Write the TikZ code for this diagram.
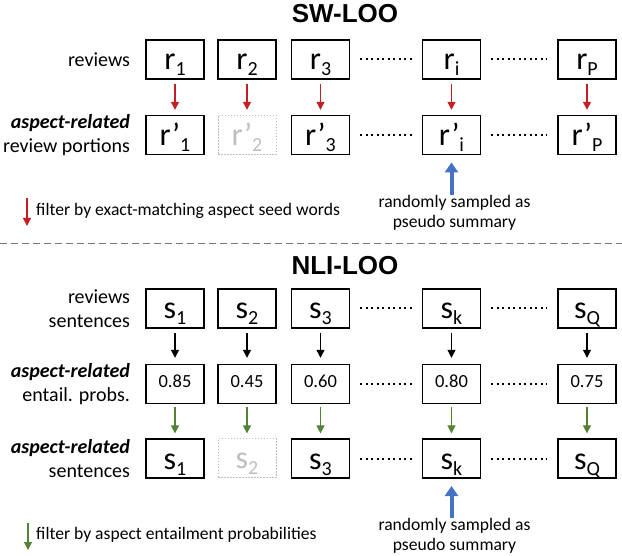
\documentclass[tikz,border=0pt]{standalone}
\usepackage{fontspec}
\setmainfont{Carlito}
\newfontfamily\titlefont{Liberation Sans}
\usepackage{xcolor}
\usepackage{tikz}
\usetikzlibrary{arrows.meta, positioning}
\definecolor{looRed}{RGB}{197, 30, 35}
\definecolor{looGreen}{RGB}{84, 130, 53}
\definecolor{looBlue}{RGB}{68, 114, 196}
\definecolor{looGray}{RGB}{190, 190, 190}
\definecolor{sepGray}{RGB}{120, 120, 120}
\newcommand{\bxt}[2]{\fontsize{32}{32}\selectfont #1\raisebox{-6pt}{\fontsize{20}{20}\selectfont #2}}

\begin{document}
\begin{tikzpicture}[
    x=1pt, y=-1pt,
    node distance=35pt,
    box/.style={rectangle, draw=black, line width=1.6pt, minimum width=58pt, minimum height=39pt, inner sep=0pt, text height=21pt, text depth=0pt},
    ghost/.style={box, draw=looGray, line width=1pt, dash pattern=on 1.5pt off 1.5pt, text=looGray},
    probbox/.style={box, font=\fontsize{18.5}{18.5}\selectfont, text height=11pt, text depth=4pt},
    rowlabel/.style={font=\fontsize{20}{24}\selectfont, align=right, inner sep=0pt},
    title/.style={font=\titlefont\bfseries\fontsize{26}{26}\selectfont, inner sep=0pt},
    note/.style={font=\fontsize{17.6}{20}\selectfont, align=center, inner sep=0pt},
    dots/.style={line width=2pt, dash pattern=on 2pt off 3.5pt},
    sepline/.style={sepGray, line width=1pt, dash pattern=on 7pt off 4pt},
    redarrow/.style={-{Triangle[width=8pt,length=8pt]}, line width=1.2pt, looRed, shorten <=4pt, shorten >=5pt},
    blackarrow/.style={-{Triangle[width=8pt,length=8pt]}, line width=1.2pt, black, shorten <=4pt, shorten >=6pt},
    greenarrow/.style={-{Triangle[width=8pt,length=8pt]}, line width=1.2pt, looGreen, shorten <=3pt, shorten >=5pt},
    bluearrow/.style={-{Triangle[width=13pt,length=10pt]}, line width=4pt, looBlue, shorten >=7pt}
]
\useasboundingbox (0,0) rectangle (622,556);

% SW-LOO
\node[title] (swtitle) at (345,13.5) {SW-LOO};
\node[box] (r1) at (175,59.5) {\bxt{r}{1}};
\node[box] (r2) at (247,59.5) {\bxt{r}{2}};
\node[box] (r3) at (320.5,59.5) {\bxt{r}{3}};
\node[box] (ri) at (451.5,59.5) {\bxt{r}{i}};
\node[box] (rP) at (587,59.5) {\bxt{r}{P}};
\node[box, below=of r1] (rp1) {\bxt{r’}{1}};
\node[ghost, below=of r2] (rp2) {\bxt{r’}{2}};
\node[box, below=of r3] (rp3) {\bxt{r’}{3}};
\node[box, below=of ri] (rpi) {\bxt{r’}{i}};
\node[box, below=of rP] (rpP) {\bxt{r’}{P}};
\node[rowlabel, left=15pt of r1] (lrev) {reviews};
\node[rowlabel, left=15pt of rp1] (lport) {\textbf{\textit{aspect-related}}\\review portions};

\draw[dots] ([xshift=10pt]r3.east) -- ([xshift=-10pt]ri.west);
\draw[dots] ([xshift=10pt]ri.east) -- ([xshift=-10pt]rP.west);
\draw[dots] ([xshift=10pt]rp3.east) -- ([xshift=-10pt]rpi.west);
\draw[dots] ([xshift=10pt]rpi.east) -- ([xshift=-10pt]rpP.west);

\draw[redarrow] (r1) -- (rp1);
\draw[redarrow] (r2) -- (rp2);
\draw[redarrow] (r3) -- (rp3);
\draw[redarrow] (ri) -- (rpi);
\draw[redarrow] (rP) -- (rpP);

\node[note, below=40pt of rpi, xshift=3pt] (swpick) {randomly sampled as\\pseudo summary};
\draw[bluearrow] (rpi.south |- swpick.north) -- (rpi.south);

% legend SW-LOO
\coordinate (legRedTop) at (27,198);
\coordinate (legRedBot) at (27,226);
\draw[redarrow, shorten <=0pt, shorten >=0pt] (legRedTop) -- (legRedBot);
\node[note, anchor=west] (legRedTxt) at (36,211) {filter by exact-matching aspect seed words};

% separator
\draw[sepline] (0,244) -- (622,244);

% NLI-LOO
\node[title] (nlititle) at (345,266) {NLI-LOO};
\node[box] (s1) at (175,308.5) {\bxt{s}{1}};
\node[box] (s2) at (247,308.5) {\bxt{s}{2}};
\node[box] (s3) at (320.5,308.5) {\bxt{s}{3}};
\node[box] (sk) at (451.5,308.5) {\bxt{s}{k}};
\node[box] (sQ) at (587,308.5) {\bxt{s}{Q}};
\node[probbox, below=of s1] (p1) {0.85};
\node[probbox, below=of s2] (p2) {0.45};
\node[probbox, below=of s3] (p3) {0.60};
\node[probbox, below=of sk] (pk) {0.80};
\node[probbox, below=of sQ] (pQ) {0.75};
\node[box, below=34pt of p1] (ss1) {\bxt{s}{1}};
\node[ghost, below=34pt of p2] (ss2) {\bxt{s}{2}};
\node[box, below=34pt of p3] (ss3) {\bxt{s}{3}};
\node[box, below=34pt of pk] (ssk) {\bxt{s}{k}};
\node[box, below=34pt of pQ] (ssQ) {\bxt{s}{Q}};
\node[rowlabel, left=15pt of s1] (lsent) {reviews\\sentences};
\node[rowlabel, left=15pt of p1] (lprob) {\textbf{\textit{aspect-related}}\\entail. probs.};
\node[rowlabel, left=15pt of ss1] (lasent) {\textbf{\textit{aspect-related}}\\sentences};

\draw[dots] ([xshift=10pt]s3.east) -- ([xshift=-10pt]sk.west);
\draw[dots] ([xshift=10pt]sk.east) -- ([xshift=-10pt]sQ.west);
\draw[dots] ([xshift=10pt]p3.east) -- ([xshift=-10pt]pk.west);
\draw[dots] ([xshift=10pt]pk.east) -- ([xshift=-10pt]pQ.west);
\draw[dots] ([xshift=10pt]ss3.east) -- ([xshift=-10pt]ssk.west);
\draw[dots] ([xshift=10pt]ssk.east) -- ([xshift=-10pt]ssQ.west);

\draw[blackarrow] (s1) -- (p1);
\draw[blackarrow] (s2) -- (p2);
\draw[blackarrow] (s3) -- (p3);
\draw[blackarrow] (sk) -- (pk);
\draw[blackarrow] (sQ) -- (pQ);
\draw[greenarrow] (p1) -- (ss1);
\draw[greenarrow] (p2) -- (ss2);
\draw[greenarrow] (p3) -- (ss3);
\draw[greenarrow] (pk) -- (ssk);
\draw[greenarrow] (pQ) -- (ssQ);

\node[note, below=39pt of ssk, xshift=3pt] (nlipick) {randomly sampled as\\pseudo summary};
\draw[bluearrow] (ssk.south |- nlipick.north) -- (ssk.south);

% legend NLI-LOO
\coordinate (legGreenTop) at (28,523);
\coordinate (legGreenBot) at (28,550);
\draw[greenarrow, shorten <=0pt, shorten >=0pt] (legGreenTop) -- (legGreenBot);
\node[note, anchor=west] (legGreenTxt) at (36,535) {filter by aspect entailment probabilities};

\end{tikzpicture}
\end{document}
